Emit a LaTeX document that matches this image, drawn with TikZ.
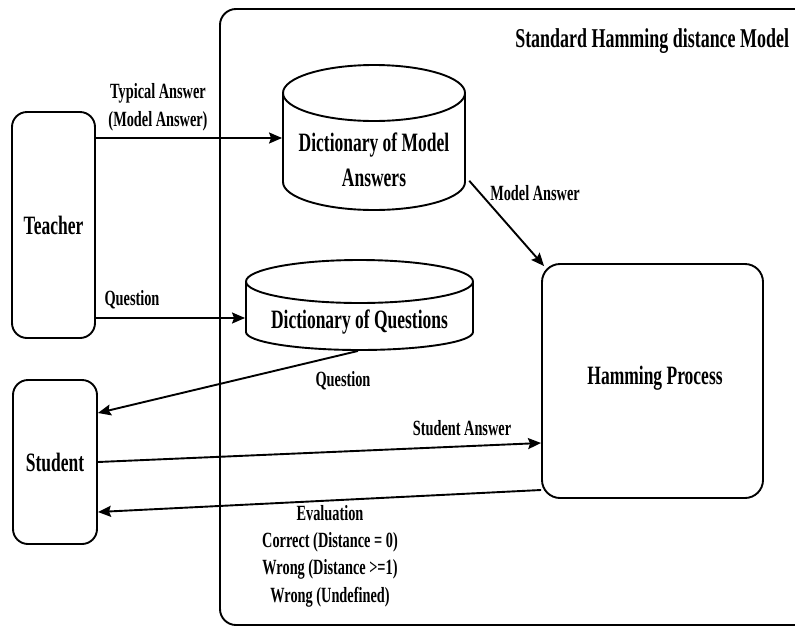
\documentclass[tikz,border=0pt]{standalone}
\usepackage{fontspec}
\setmainfont{Liberation Serif}[FakeStretch=0.66]
\usetikzlibrary{arrows.meta}
\begin{document}
\begin{tikzpicture}[x=1pt,y=-1pt,
  line width=1.9pt,
  box/.style={draw, rounded corners=15pt, align=center, font=\fontsize{26.5}{30}\selectfont\bfseries, inner sep=0pt},
  bigtxt/.style={font=\fontsize{26.5}{35}\selectfont\bfseries, align=center, inner sep=0pt},
  lbl/.style={font=\fontsize{21.7}{28}\selectfont\bfseries, align=center, inner sep=0pt},
  arr/.style={-{Stealth[length=13pt,width=11pt,inset=2pt]}, line width=1.9pt}]
\useasboundingbox (0,0) rectangle (795,627);
% outer model frame
\draw[rounded corners=16pt] (820,9) -- (220,9) -- (220,625) -- (820,625);
\node[lbl, font=\fontsize{27.2}{30}\selectfont\bfseries, anchor=east] (title) at (790,41) {Standard Hamming distance Model};
% actors
\node[box, minimum width=83pt, minimum height=226pt] (teacher) at (53.5,225) {Teacher};
\node[box, minimum width=84pt, minimum height=164pt] (student) at (55,462) {Student};
\node[box, rounded corners=18pt, minimum width=221pt, minimum height=234pt] (ham) at (652.5,381) {};
\node[bigtxt] (hamtxt) at (655,378) {Hamming Process};
% cylinder 1
\node[inner sep=0pt, minimum width=182pt, minimum height=145pt] (cyl1) at (374,137.5) {};
\draw (374,93) ellipse [x radius=91, y radius=28];
\draw (283,93) -- (283,182) arc[start angle=180, end angle=0, x radius=91, y radius=28] -- (465,93);
\node[bigtxt] (cyl1txt) at (374,160) {Dictionary of Model\\Answers};
% cylinder 2
\node[inner sep=0pt, minimum width=227pt, minimum height=90pt] (cyl2) at (359.5,305) {};
\draw (359.5,281.5) ellipse [x radius=113.5, y radius=21.5];
\draw (246,281.5) -- (246,332) arc[start angle=180, end angle=0, x radius=113.5, y radius=18] -- (473,281.5);
\node[bigtxt] (cyl2txt) at (359.5,322) {Dictionary of Questions};
% connectors
\draw[arr] (teacher.east |- 0,138) -- (cyl1.west |- 0,138);
\draw[arr] (teacher.east |- 0,318) -- (cyl2.west |- 0,318);
\draw[arr] (cyl2.south -| 358,0) -- (student.east |- 0,413);
\draw[arr] (student.east |- 0,462) -- (ham.west |- 0,443);
\draw[arr] (ham.west |- 0,490) -- (student.east |- 0,512);
\draw[arr, shorten <=5pt] (cyl1.east |- 0,177) -- ([shift={(3,3)}]ham.north west);
% labels
\node[lbl] (l1) at (158,107.5) {Typical Answer\\(Model Answer)};
\node[lbl] (l2) at (132,300) {Question};
\node[lbl] (l3) at (343,381) {Question};
\node[lbl] (l4) at (462,428) {Student Answer};
\node[lbl] (l5) at (535,193) {Model Answer};
\node[lbl, font=\fontsize{21.7}{27.3}\selectfont\bfseries] (l6) at (330,556) {Evaluation\\Correct (Distance = 0)\\Wrong (Distance >=1)\\Wrong (Undefined)};
\end{tikzpicture}
\end{document}
